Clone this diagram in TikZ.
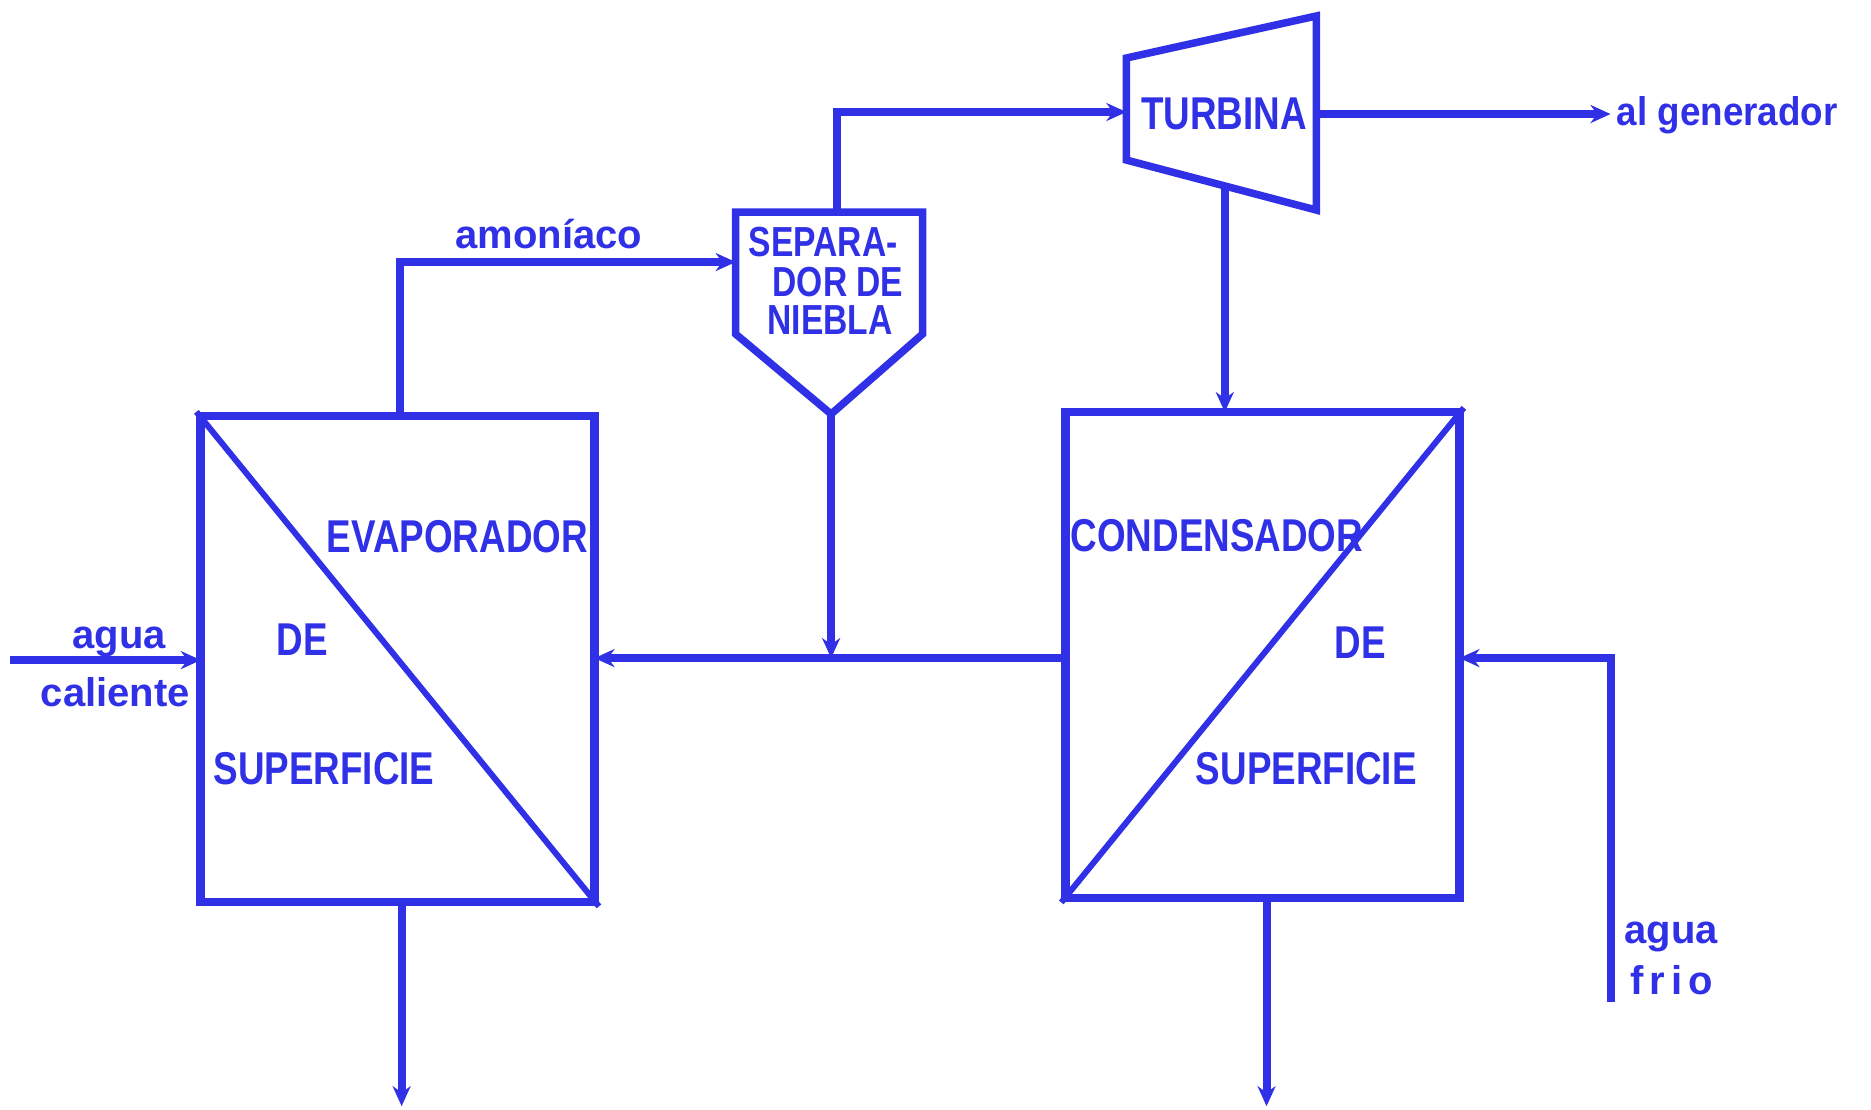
\documentclass[tikz,border=0pt]{standalone}
\usepackage{fontspec}
\usepackage{graphicx}
\setmainfont{Liberation Sans}
\usetikzlibrary{arrows.meta}
\definecolor{ink}{RGB}{48,48,230}
\newcommand{\sqz}[1]{\scalebox{0.8}[1]{#1}}
\begin{document}
\begin{tikzpicture}[x=0.994pt,y=-1pt,line join=miter,
  pipe/.style={draw=ink,line width=8pt},
  arr/.style={-{Stealth[length=20pt,width=18pt]}},
  unit/.style={draw=ink,line width=8.5pt,minimum width=394pt,minimum height=486pt,inner sep=0},
  diag/.style={draw=ink,line width=6pt},
  outline/.style={draw=ink,line width=7.5pt},
  big/.style={text=ink,font=\fontsize{46}{50}\selectfont\bfseries,inner sep=0},
  sep/.style={text=ink,font=\fontsize{42}{46}\selectfont\bfseries,inner sep=0},
  small/.style={text=ink,font=\fontsize{40}{44}\selectfont\bfseries,inner sep=0}]
\useasboundingbox (0,0) rectangle (1882,1109);

% units
\node[unit] (evap) at (400,659) {};
\node[unit] (cond) at (1270,655) {};
\draw[diag] (evap.north west) -- (evap.south east);
\draw[diag] (cond.south west) -- (cond.north east);

% separator
\draw[outline] (740,212) -- (928,212) -- (928,334) -- (836,414) -- (740,334) -- cycle;
\coordinate (sepT) at (842,212);
\coordinate (sepL) at (740,262);
\coordinate (sepB) at (836,414);

% turbine
\draw[outline] (1133,58) -- (1324,16) -- (1324,210) -- (1133,160) -- cycle;
\coordinate (turbL) at (1133,112);
\coordinate (turbR) at (1324,114);
\coordinate (turbB) at (1232,186);

% ports
\coordinate (evapT) at (402,416);
\coordinate (evapR) at (598,658);
\coordinate (evapL) at (202,660);
\coordinate (evapB) at (404,902);
\coordinate (condT) at (1232,412);
\coordinate (condL) at (1072,658);
\coordinate (condR) at (1468,658);
\coordinate (condB) at (1274,898);
\coordinate (junc) at (836,658);
\coordinate (gen) at (1620,114);
\coordinate (hot) at (10,660);
\coordinate (cold) at (1620,1002);
\coordinate (evapOut) at (404,1106);
\coordinate (condOut) at (1274,1106);

% connectors
\draw[pipe,arr] (evapT) |- (sepL);
\draw[pipe,arr] (sepT) |- (turbL);
\draw[pipe,arr] (turbR) -- (gen);
\draw[pipe,arr] (turbB) -- (condT);
\draw[pipe,arr] (sepB) -- (junc);
\draw[pipe,arr] (condL) -- (evapR);
\draw[pipe,arr] (hot) -- (evapL);
\draw[pipe,arr] (cold) |- (condR);
\draw[pipe,arr] (evapB) -- (evapOut);
\draw[pipe,arr] (condB) -- (condOut);

% texts
\node[big] (tEvap) at (460,537) {\sqz{EVAPORADOR}};
\node[big] (tEde) at (304,640) {\sqz{DE}};
\node[big] (tEsup) at (326,769) {\sqz{SUPERFICIE}};
\node[big] (tCond) at (1224,536) {\sqz{CONDENSADOR}};
\node[big] (tCde) at (1368,643) {\sqz{DE}};
\node[big] (tCsup) at (1314,769) {\sqz{SUPERFICIE}};
\node[big] (tTurb) at (1231,114) {\sqz{TURBINA}};
\node[sep,anchor=base] (tSep1) at (828,256) {\sqz{SEPARA-}};
\node[sep,anchor=base] (tSep2) at (843,296) {\sqz{DOR DE}};
\node[sep,anchor=base] (tSep3) at (835,334) {\sqz{NIEBLA}};
\node[small,anchor=base] (tAmo) at (552,248) {amoníaco};
\node[small,anchor=base] (tHot1) at (120,648) {agua};
\node[small,anchor=base] (tHot2) at (116,706) {caliente};
\node[small,anchor=base west] (tGen) at (1626,125) {\scalebox{0.92}[1]{al generador}};
\node[small,anchor=base west] (tCold1) at (1634,943) {agua};
\node[small,anchor=base west] (tCold2) at (1640,994) {f\kern6pt r\kern6pt i\kern6pt o};
\end{tikzpicture}
\end{document}
